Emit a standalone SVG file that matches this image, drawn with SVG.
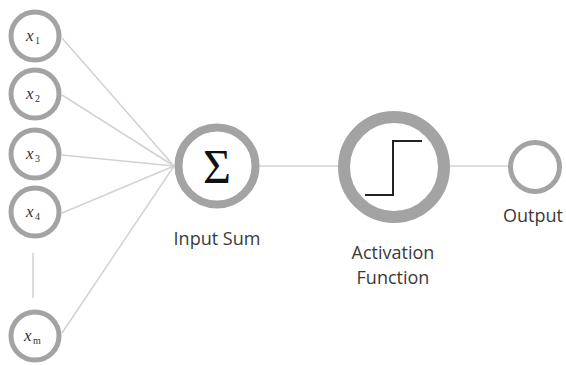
<svg xmlns="http://www.w3.org/2000/svg" width="566" height="365" viewBox="0 0 566 365">
<style>
.in{fill:#fff;stroke:#a3a3a3;stroke-width:5}
.big{fill:#fff;stroke:#a3a3a3}
.lbl{font-family:"Open Sans","DejaVu Sans",sans-serif;font-size:18px;fill:#3a3a3a;text-anchor:middle}
.x{font-family:"Liberation Serif",serif;font-style:italic;font-size:17px;fill:#333}
.sub{font-family:"Liberation Serif",serif;font-size:10px;fill:#333}
.c{stroke:#d2d2d2;stroke-width:1.5;fill:none}
</style>
<rect width="566" height="365" fill="#fff"/>
<g id="connectors">
<line class="c" x1="62" y1="38" x2="174" y2="166"/>
<line class="c" x1="62" y1="95" x2="174" y2="166"/>
<line class="c" x1="62" y1="155" x2="174" y2="166"/>
<line class="c" x1="62" y1="213" x2="174" y2="166"/>
<line class="c" x1="62" y1="333" x2="174" y2="166"/>
<line class="c" x1="33" y1="253" x2="33" y2="298"/>
<line class="c" x1="259" y1="166" x2="338" y2="166"/>
<line class="c" x1="450" y1="166" x2="509" y2="166"/>
</g>
<g id="x1"><circle class="in" cx="35" cy="36" r="24"/><text class="x" x="26" y="41">x</text><text class="sub" x="35" y="44">1</text></g>
<g id="x2"><circle class="in" cx="35" cy="94" r="24"/><text class="x" x="26" y="99">x</text><text class="sub" x="35" y="102">2</text></g>
<g id="x3"><circle class="in" cx="35" cy="154" r="24"/><text class="x" x="26" y="159">x</text><text class="sub" x="35" y="162">3</text></g>
<g id="x4"><circle class="in" cx="35" cy="212" r="24"/><text class="x" x="26" y="217">x</text><text class="sub" x="35" y="220">4</text></g>
<g id="xm"><circle class="in" cx="35" cy="336" r="24"/><text class="x" x="24" y="341">x</text><text class="sub" x="33" y="344">m</text></g>
<g id="sum"><circle class="big" cx="217" cy="166" r="38.5" stroke-width="8"/><text x="217" y="183" font-family="Liberation Serif,serif" font-size="48" fill="#111" text-anchor="middle">Σ</text><text class="lbl" x="217" y="245">Input Sum</text></g>
<g id="activation"><circle class="big" cx="394" cy="167" r="50" stroke-width="12"/><path d="M365 195H393V141H422" fill="none" stroke="#222" stroke-width="2"/><text class="lbl" x="393" y="259">Activation</text><text class="lbl" x="393" y="284">Function</text></g>
<g id="output"><circle class="in" cx="535" cy="167" r="24.5"/><text class="lbl" x="533" y="222">Output</text></g>
</svg>
